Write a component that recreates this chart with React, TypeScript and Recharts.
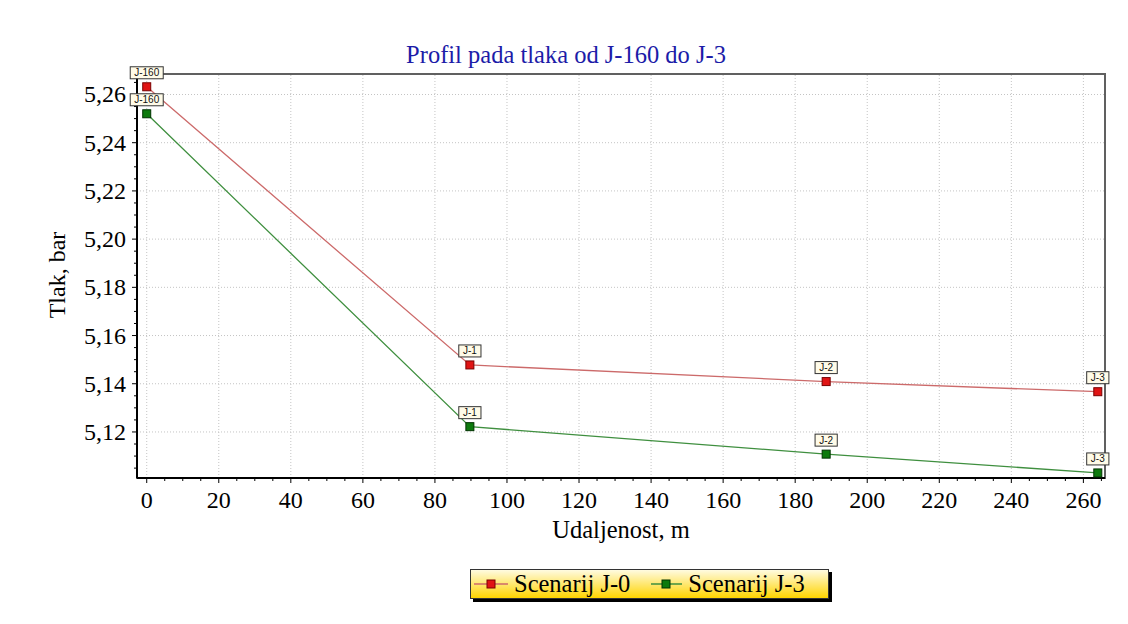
import React from 'react'
import { LineChart, Line, XAxis, YAxis, ReferenceLine, ReferenceArea, LabelList } from 'recharts'

// udaljenost (m) i tlak (bar) po cvorovima
const nodes = ['J-160', 'J-1', 'J-2', 'J-3']
const distance = [0, 89.7, 188.6, 264.0]
const scenarioJ0 = [5.2632, 5.1478, 5.1409, 5.1367]
const scenarioJ3 = [5.2520, 5.1222, 5.1108, 5.1030]

const xTicks = [0, 20, 40, 60, 80, 100, 120, 140, 160, 180, 200, 220, 240, 260]
const yTicks = [5.12, 5.14, 5.16, 5.18, 5.2, 5.22, 5.24, 5.26]
const xDomain: [number, number] = [-2.7, 266]
const yDomain: [number, number] = [5.1009, 5.2685]

const xMinor: number[] = []
for (let i = 0; i <= 53; i++) xMinor.push(i * 5)
const yMinor: number[] = []
for (let i = 1; i <= 33; i++) yMinor.push(Math.round((5.1 + i * 0.005) * 1000) / 1000)

const data = distance.map((d, i) => ({
  dist: d,
  node: nodes[i],
  j0: scenarioJ0[i],
  j3: scenarioJ3[i],
}))

const SERIF = '"Liberation Serif", "DejaVu Serif", serif'
const SANS = '"Liberation Sans", Arial, sans-serif'

const isMajor = (v: number, list: number[]) => list.some(t => Math.abs(t - v) < 1e-6)

const XTick = (props: any) => {
  const { x, y, payload } = props
  const major = isMajor(payload.value, xTicks)
  return (
    <g>
      <line x1={x} x2={x} y1={y} y2={y + (major ? 5 : 3)} stroke="#000" strokeWidth={1} />
      {major && (
        <text x={x} y={y + 30} textAnchor="middle" style={{ fontFamily: SERIF, fontSize: 24 }} fill="#000">
          {payload.value}
        </text>
      )}
    </g>
  )
}

const YTick = (props: any) => {
  const { x, y, payload } = props
  const major = isMajor(payload.value, yTicks)
  return (
    <g>
      <line x1={x} x2={x - (major ? 5 : 3)} y1={y} y2={y} stroke="#000" strokeWidth={1} />
      {major && (
        <text x={x - 11} y={y + 8} textAnchor="end" style={{ fontFamily: SERIF, fontSize: 24 }} fill="#000">
          {payload.value.toFixed(2).replace('.', ',')}
        </text>
      )}
    </g>
  )
}

const SquareDot = (fill: string, stroke: string) => (props: any) => {
  const { cx, cy, index } = props
  return <rect key={`d-${index}`} x={cx - 4} y={cy - 4} width={8} height={8} fill={fill} stroke={stroke} strokeWidth={1} />
}

const NodeLabel = (props: any) => {
  const { x, y, value } = props
  const w = String(value).length * 5.4 + 6
  return (
    <g>
      <rect x={x - w / 2} y={y - 20} width={w} height={12} fill="#fffbe8" stroke="#333" strokeWidth={1} />
      <text x={x} y={y - 10.5} textAnchor="middle" style={{ fontFamily: SANS, fontSize: 10 }} fill="#111">
        {value}
      </text>
    </g>
  )
}

export default function App() {
  return (
    <div style={{ position: 'absolute', left: 0, top: 0, width: 1128, height: 624, background: '#fff' }}>
      <div style={{ position: 'absolute', left: 566, top: 55, transform: 'translate(-50%, -50%)', whiteSpace: 'nowrap', fontFamily: SERIF, fontSize: 24.5, color: '#1c1ca8' }}>
        Profil pada tlaka od J-160 do J-3
      </div>
      <LineChart
        width={1128}
        height={624}
        data={data}
        margin={{ top: 74, right: 23, bottom: 116, left: 57 }}
      >
        <ReferenceArea x1={xDomain[0]} x2={xDomain[1]} y1={yDomain[0]} y2={yDomain[1]} fill="none" stroke="#606060" strokeWidth={2} ifOverflow="visible" />
        {xTicks.map(t => (
          <ReferenceLine key={`gx-${t}`} x={t} stroke="#c4c4c4" strokeDasharray="1 2" />
        ))}
        {yTicks.map(t => (
          <ReferenceLine key={`gy-${t}`} y={t} stroke="#c4c4c4" strokeDasharray="1 2" />
        ))}
        <XAxis
          dataKey="dist"
          type="number"
          domain={xDomain}
          ticks={xMinor}
          allowDataOverflow
          interval={0}
          height={30}
          tickSize={0}
          tickMargin={0}
          tickLine={false}
          tick={<XTick />}
          axisLine={{ stroke: '#000', strokeWidth: 2 }}
        />
        <YAxis
          type="number"
          domain={yDomain}
          ticks={yMinor}
          allowDataOverflow
          interval={0}
          width={80}
          tickSize={0}
          tickMargin={0}
          tickLine={false}
          tick={<YTick />}
          axisLine={{ stroke: '#000', strokeWidth: 2 }}
        />
        <Line
          dataKey="j0"
          stroke="#cc6a6a"
          strokeWidth={1.3}
          isAnimationActive={false}
          dot={SquareDot('#e01414', '#7a0000')}
          activeDot={false}
        >
          <LabelList dataKey="node" content={<NodeLabel />} />
        </Line>
        <Line
          dataKey="j3"
          stroke="#3f8f3f"
          strokeWidth={1.3}
          isAnimationActive={false}
          dot={SquareDot('#0d7a0d', '#003300')}
          activeDot={false}
        >
          <LabelList dataKey="node" content={<NodeLabel />} />
        </Line>
      </LineChart>
      <div style={{ position: 'absolute', left: 57, top: 275, transform: 'translate(-50%, -50%) rotate(-90deg)', fontFamily: SERIF, fontSize: 24, whiteSpace: 'nowrap' }}>
        Tlak, bar
      </div>
      <div style={{ position: 'absolute', left: 621, top: 530, transform: 'translate(-50%, -50%)', fontFamily: SERIF, fontSize: 24.5, whiteSpace: 'nowrap' }}>
        Udaljenost, m
      </div>
      <div
        style={{
          position: 'absolute',
          left: 470,
          top: 569,
          width: 357,
          height: 28,
          border: '1px solid #333',
          background: 'linear-gradient(#fffbe0, #ffd400)',
          boxShadow: '3px 3px 0 #000',
          fontFamily: SERIF,
          fontSize: 24.5,
          display: 'flex',
          alignItems: 'center',
        }}
      >
        <svg width={36} height={12} style={{ marginLeft: 2 }}>
          <line x1={1} x2={35} y1={6} y2={6} stroke="#cc6a6a" strokeWidth={1.5} />
          <rect x={14} y={2} width={8} height={8} fill="#e01414" stroke="#7a0000" />
        </svg>
        <span style={{ marginLeft: 5 }}>Scenarij J-0</span>
        <svg width={33} height={12} style={{ marginLeft: 20 }}>
          <line x1={1} x2={32} y1={6} y2={6} stroke="#3f8f3f" strokeWidth={1.5} />
          <rect x={12} y={2} width={8} height={8} fill="#0d7a0d" stroke="#003300" />
        </svg>
        <span style={{ marginLeft: 5 }}>Scenarij J-3</span>
      </div>
    </div>
  )
}
